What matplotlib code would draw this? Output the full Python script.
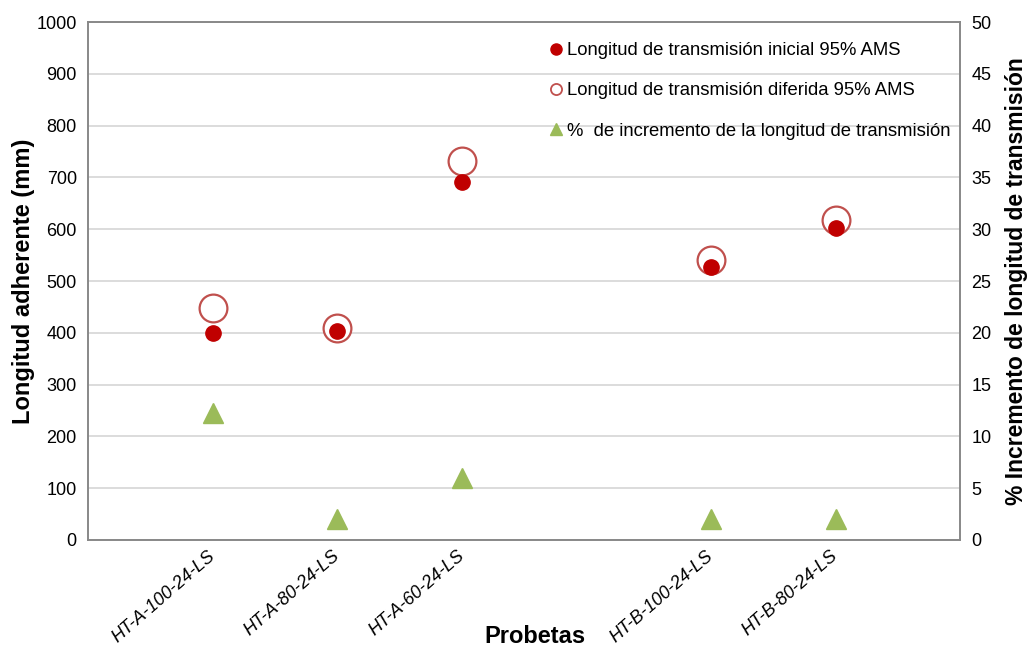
import matplotlib
matplotlib.use("Agg")
import matplotlib.pyplot as plt
from matplotlib.lines import Line2D

plt.rcParams['font.family'] = ['Liberation Sans', 'DejaVu Sans']

categories = ["HT-A-100-24-LS", "HT-A-80-24-LS", "HT-A-60-24-LS", "HT-B-100-24-LS", "HT-B-80-24-LS"]
positions = [1, 2, 3, 5, 6]
inicial = [400, 403, 692, 528, 603]
diferida = [448, 410, 732, 540, 617]
incremento = [12.3, 2.0, 6.0, 2.0, 2.0]

fig = plt.figure(figsize=(10.30, 6.49), dpi=100)
ax = fig.add_axes([0.0854, 0.168, 0.847, 0.798])
ax2 = ax.twinx()

grid_c = "#d9d9d9"
frame_c = "#888888"

ax.set_xlim(0, 7)
ax.set_ylim(0, 1000)
ax.set_yticks(range(0, 1001, 100))
ax2.set_ylim(0, 50)
ax2.set_yticks(range(0, 51, 5))
ax.yaxis.grid(True, color=grid_c, linewidth=1.3)
ax.set_axisbelow(True)

ax.plot(positions, diferida, linestyle="none", marker="o", ms=20, mfc="white",
        mec="#c0504d", mew=1.6, zorder=3)
ax.plot(positions, inicial, linestyle="none", marker="o", ms=11, mfc="#c00000",
        mec="#c00000", zorder=4)
ax2.plot(positions, incremento, linestyle="none", marker="^", ms=15, mfc="#9bbb59",
         mec="#9bbb59", zorder=4)

ax.set_xticks(positions)
ax.set_xticklabels(categories, rotation=41, ha="right", va="center", rotation_mode="anchor",
                   fontsize=13, style="italic")
ax.tick_params(axis="x", length=0, pad=10)
ax.tick_params(axis="y", length=0, labelsize=13, pad=8)
ax2.tick_params(axis="y", length=0, labelsize=13, pad=8)

for a in (ax, ax2):
    for s in a.spines.values():
        s.set_color(frame_c)
        s.set_linewidth(1.2)

ax.set_ylabel("Longitud adherente (mm)", fontsize=17, fontweight="bold", labelpad=1)
ax2.set_ylabel("% Incremento de longitud de transmisión", fontsize=16.5, fontweight="bold", labelpad=10)
fig.text(0.519, 0.02, "Probetas", fontsize=17, fontweight="bold", ha="center", va="center")

handles = [
    Line2D([], [], linestyle="none", marker="o", ms=8, mfc="#c00000", mec="#c00000"),
    Line2D([], [], linestyle="none", marker="o", ms=8, mfc="white", mec="#c0504d", mew=1.3),
    Line2D([], [], linestyle="none", marker="^", ms=9, mfc="#9bbb59", mec="#9bbb59"),
]
labels = ["Longitud de transmisión inicial 95% AMS",
          "Longitud de transmisión diferida 95% AMS",
          "%  de incremento de la longitud de transmisión"]
leg = ax2.legend(handles, labels, loc="upper left", bbox_to_anchor=(0.522, 0.975),
                 frameon=False, fontsize=13.3, handlelength=0.6, handletextpad=0.3,
                 labelspacing=1.25, borderaxespad=0)

fig.savefig("out.png", dpi=100)
